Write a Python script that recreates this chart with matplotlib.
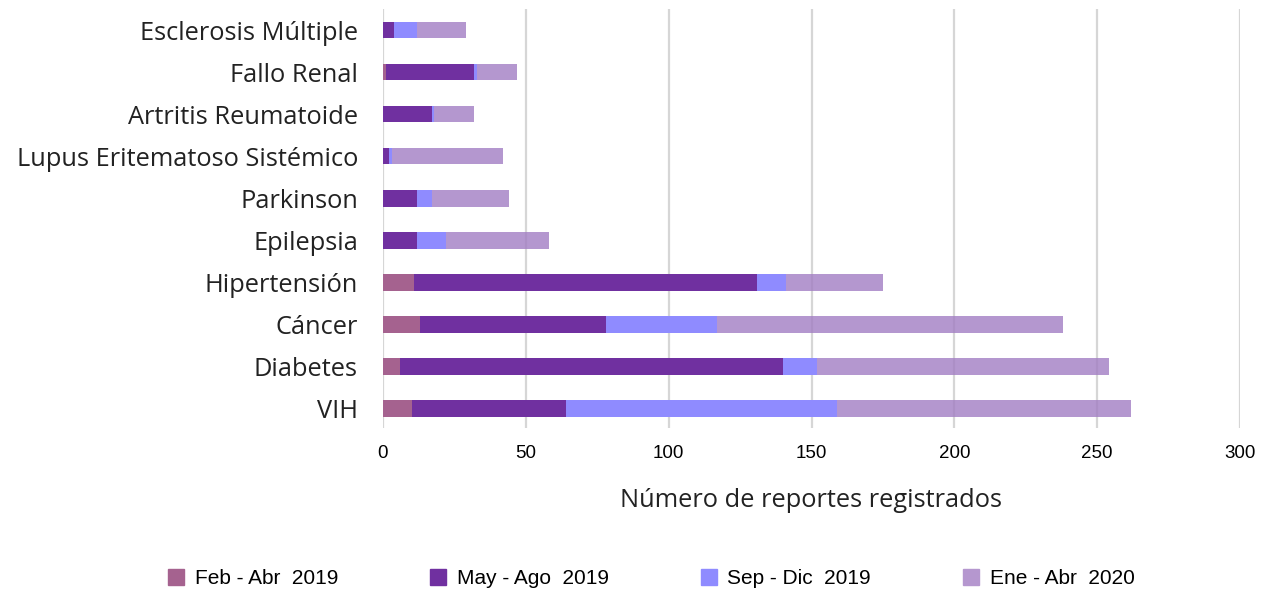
import matplotlib
matplotlib.use("Agg")
import matplotlib.pyplot as plt
from matplotlib.lines import Line2D
import numpy as np

categories = ["VIH", "Diabetes", "Cáncer", "Hipertensión", "Epilepsia", "Parkinson",
              "Lupus Eritematoso Sistémico", "Artritis Reumatoide", "Fallo Renal",
              "Esclerosis Múltiple"]
series_names = ["Feb - Abr  2019", "May - Ago  2019", "Sep - Dic  2019", "Ene - Abr  2020"]
feb_abr_2019 = [10, 6, 13, 11, 0, 0, 0, 0, 1, 0]
may_ago_2019 = [54, 134, 65, 120, 12, 12, 2, 17, 31, 4]
sep_dic_2019 = [95, 12, 39, 10, 10, 5, 1, 1, 1, 8]
ene_abr_2020 = [103, 102, 121, 34, 36, 27, 39, 14, 14, 17]
xticks = [0, 50, 100, 150, 200, 250, 300]

colors = ["#a5628f", "#7030a0", "#8f8bff", "#a27dc3"]
alphas = [1.0, 1.0, 1.0, 0.8]
legend_colors = ["#a5628f", "#7030a0", "#8f8bff", "#b597cf"]

fig = plt.figure(figsize=(12.63, 5.92), dpi=100)
ax = fig.add_axes([383/1263, 1-428/592, (1240-383)/1263, (428-9)/592])

y = np.arange(len(categories))
left = np.zeros(len(categories))
for vals, c, a in zip([feb_abr_2019, may_ago_2019, sep_dic_2019, ene_abr_2020], colors, alphas):
    ax.barh(y, vals, left=left, height=0.39, color=c, alpha=a, zorder=2)
    left += np.array(vals)

ax.set_xlim(0, 300)
ax.set_ylim(-0.46, 9.5)
ax.set_xticks(xticks)
ax.set_xticklabels([str(t) for t in xticks], fontfamily="Liberation Sans", fontsize=13.5)
ax.set_yticks(y)
ax.set_yticklabels(categories, fontfamily="Open Sans", fontsize=18.3, color="#222222")
ax.tick_params(axis="y", length=0, pad=18)
ax.tick_params(axis="x", length=0, pad=12)
for s in ax.spines.values():
    s.set_visible(False)
ax.set_axisbelow(True)
ax.grid(axis="x", color="#d6d6d6", linewidth=1.6, zorder=0)
ax.set_xlabel("Número de reportes registrados", fontfamily="Open Sans", fontsize=18.3,
              color="#222222", labelpad=19)

handles = [Line2D([0], [0], marker="s", linestyle="none", markersize=11,
                  markerfacecolor=c, markeredgecolor=c) for c in legend_colors]
fig.legend(handles, series_names, loc="center", bbox_to_anchor=(650/1263, 1-579/592),
           ncol=4, frameon=False, prop={"family": "Liberation Sans", "size": 15},
           columnspacing=4.3, handletextpad=0.4, handlelength=1.0)

fig.savefig("out.png", dpi=100)
